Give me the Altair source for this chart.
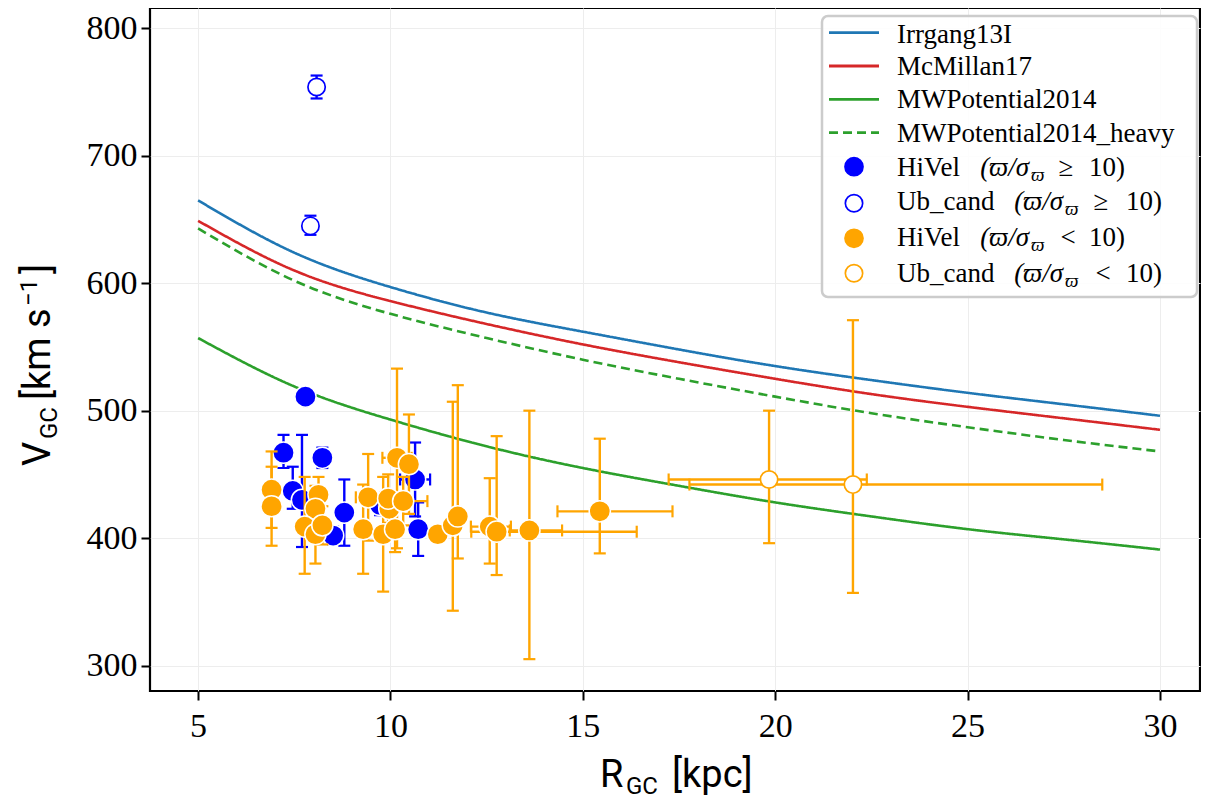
import altair as alt
import pandas as pd

# ---------------- data ----------------
R_MODEL = [5, 7.5, 10, 12.5, 15, 17.5, 20, 22.5, 25, 27.5, 30]
V_IRRGANG = [665, 624, 597, 577, 562, 548, 535, 524, 514, 505, 496]
V_MCMILLAN = [649, 610, 586, 568, 552, 538, 525, 513, 503, 494, 485]
V_MWP = [557, 519, 493, 472, 455, 441, 428, 417, 407, 399, 391]
V_MWP_HEAVY = [643, 602, 576, 557, 540, 525, 511, 498, 487, 477, 468]
MODELS = ["Irrgang13I", "McMillan17", "MWPotential2014", "MWPotential2014_heavy"]
MODEL_COLORS = ["#1f77b4", "#d62728", "#2ca02c", "#2ca02c"]

# HiVel (parallax/err >= 10)
HH_R = [7.79, 7.22, 7.46, 7.70, 8.23, 8.80, 8.51, 10.64, 10.72, 9.73]
HH_V = [511, 467, 437, 430, 463, 420, 402, 446, 407, 426]
HH_VLO = [506, 455, 423, 393, 455, 394, 395, 417, 386, 418]
HH_VHI = [516, 481, 456, 481, 471, 446, 409, 475, 428, 434]
HH_RLO = [7.74, 7.15, 7.38, 7.62, 8.17, 8.72, 8.44, 10.25, 10.55, 9.65]
HH_RHI = [7.84, 7.29, 7.54, 7.78, 8.29, 8.88, 8.58, 11.03, 10.89, 9.81]

# Ub_cand (parallax/err >= 10)
UH_R = [8.08, 7.92]
UH_V = [754, 645]
UH_VLO = [745, 638]
UH_VHI = [763, 653]
UH_RLO = [8.04, 7.88]
UH_RHI = [8.12, 7.96]

# HiVel (parallax/err < 10)
HL_R = [6.91, 6.91, 8.13, 8.05, 7.77, 8.05, 8.23, 9.29, 9.42, 9.97, 9.94, 10.33,
        10.17, 10.48, 9.81, 10.12, 11.23, 11.62, 11.75, 12.58, 12.76, 13.61, 15.44]
HL_V = [438, 425, 434, 423, 409, 403, 410, 407, 432, 423, 431, 429,
        463, 458, 403, 407, 403, 410, 417, 409, 405, 406, 421]
HL_VLO = [408, 394, 420, 405, 372, 380, 395, 372, 398, 410, 412, 410,
          392, 419, 358, 389, 397, 343, 384, 380, 371, 305, 388]
HL_VHI = [468, 456, 448, 441, 448, 426, 425, 442, 466, 436, 450, 448,
          533, 497, 448, 425, 409, 507, 520, 447, 480, 500, 478]
HL_RLO = [6.85, 6.85, 8.07, 7.99, 7.71, 7.99, 8.17, 9.23, 9.10, 9.91, 9.88, 9.70,
          9.79, 10.42, 9.75, 10.06, 11.17, 11.56, 11.69, 12.09, 12.10, 13.10, 14.34]
HL_RHI = [6.97, 6.97, 8.19, 8.11, 7.83, 8.11, 8.29, 9.35, 9.74, 10.03, 10.00, 10.96,
          10.55, 10.54, 9.87, 10.18, 11.29, 11.68, 11.81, 13.13, 16.40, 14.46, 17.33]

# Ub_cand (parallax/err < 10)
UL_R = [19.84, 22.02]
UL_V = [446, 442]
UL_VLO = [396, 357]
UL_VHI = [500, 571]
UL_RLO = [17.23, 17.77]
UL_RHI = [22.38, 28.50]

X_TICKS = [5, 10, 15, 20, 25, 30]
Y_TICKS = [300, 400, 500, 600, 700, 800]

# ---------------- styling ----------------
BLUE = "#0000ff"
ORANGE = "#ffa500"
W, H = 1050, 683
XDOM = [3.75, 31.04]
YDOM = [280, 816]
SERIF = "Liberation Serif"
SANS = "Roboto"
MSIZE = 450
OSIZE = 300

xs = alt.Scale(domain=XDOM, nice=False, zero=False)
ys = alt.Scale(domain=YDOM, nice=False, zero=False)
XAXIS = alt.Axis(values=X_TICKS, title=None, grid=True, gridColor="#ededed", gridWidth=1,
                 domain=False, tickColor="black", tickWidth=2, tickSize=9,
                 labelFont=SERIF, labelFontSize=34, labelColor="black", labelPadding=9,
                 labelFlush=False, labelOverlap=False)
YAXIS = alt.Axis(values=Y_TICKS, title=None, grid=True, gridColor="#ededed", gridWidth=1,
                 domain=False, tickColor="black", tickWidth=2, tickSize=9,
                 labelFont=SERIF, labelFontSize=34, labelColor="black", labelPadding=4,
                 labelFlush=False, labelOverlap=False)


def xq(f):
    return alt.X(f, type="quantitative", scale=xs, axis=XAXIS)


def yq(f):
    return alt.Y(f, type="quantitative", scale=ys, axis=YAXIS)


# ---------------- curves ----------------
rows = []
for name, vals in zip(MODELS, [V_IRRGANG, V_MCMILLAN, V_MWP, V_MWP_HEAVY]):
    for r, v in zip(R_MODEL, vals):
        rows.append({"model": name, "R": r, "V": v})
curves_df = pd.DataFrame(rows)

curves = alt.Chart(curves_df).mark_line(strokeWidth=2.6, interpolate="natural", clip=True).encode(
    x=xq("R"), y=yq("V"),
    color=alt.Color("model:N", scale=alt.Scale(domain=MODELS, range=MODEL_COLORS), legend=None),
    strokeDash=alt.StrokeDash("model:N", scale=alt.Scale(domain=MODELS,
                              range=[[1, 0], [1, 0], [1, 0], [9, 5]]), legend=None),
    detail="model:N",
)


def group(R, V, VLO, VHI, RLO, RHI, color, filled):
    df = pd.DataFrame({"R": R, "V": V, "vlo": VLO, "vhi": VHI, "rlo": RLO, "rhi": RHI})
    base = alt.Chart(df)
    lw = 2.4
    vbar = base.mark_rule(color=color, strokeWidth=lw).encode(x=xq("R"), y=yq("vlo"), y2="vhi")
    hbar = base.mark_rule(color=color, strokeWidth=lw).encode(y=yq("V"), x=xq("rlo"), x2="rhi")
    cap_kw = dict(size=12, thickness=2.2, color=color, opacity=1)
    c1 = base.mark_tick(orient="horizontal", **cap_kw).encode(x=xq("R"), y=yq("vlo"))
    c2 = base.mark_tick(orient="horizontal", **cap_kw).encode(x=xq("R"), y=yq("vhi"))
    c3 = base.mark_tick(orient="vertical", **cap_kw).encode(x=xq("rlo"), y=yq("V"))
    c4 = base.mark_tick(orient="vertical", **cap_kw).encode(x=xq("rhi"), y=yq("V"))
    if filled:
        mk = base.mark_point(shape="circle", filled=True, fill=color, stroke="white",
                             strokeWidth=1.5, size=MSIZE, opacity=1).encode(x=xq("R"), y=yq("V"))
    else:
        mk = base.mark_point(shape="circle", filled=True, fill="white", stroke=color,
                             strokeWidth=1.7, size=OSIZE, opacity=1).encode(x=xq("R"), y=yq("V"))
    return [vbar, hbar, c1, c2, c3, c4, mk]


layers = [curves]
layers += group(HH_R, HH_V, HH_VLO, HH_VHI, HH_RLO, HH_RHI, BLUE, True)
layers += group(UH_R, UH_V, UH_VLO, UH_VHI, UH_RLO, UH_RHI, BLUE, False)
layers += group(HL_R, HL_V, HL_VLO, HL_VHI, HL_RLO, HL_RHI, ORANGE, True)
layers += group(UL_R, UL_V, UL_VLO, UL_VHI, UL_RLO, UL_RHI, ORANGE, False)


def txt(s, x, y, size, font=SERIF, align="left", baseline="alphabetic", angle=0, style="normal"):
    kw = dict(align=align, baseline=baseline, font=font, fontSize=size, color="black",
              fontStyle=style)
    if angle:
        kw["angle"] = angle
    return alt.Chart(pd.DataFrame({"t": [s]})).mark_text(**kw).encode(
        x=alt.value(x), y=alt.value(y), text="t:N")


# ---------------- legend ----------------
LEG_LINE_Y = [24.7, 58, 91.3, 124.7]
LEG_MARK_Y = [158.7, 195.3, 230.3, 265.3]
LEG_TEXT_Y = [34.7, 67, 100.3, 133.7, 167.7, 202, 237.7, 273.7]
LFS = 27
layers.append(alt.Chart(pd.DataFrame({"a": [0]})).mark_rect(
    fill="white", fillOpacity=0.85, stroke="#cccccc", strokeWidth=2.5, cornerRadius=6).encode(
    x=alt.value(672), x2=alt.value(1047), y=alt.value(8), y2=alt.value(289)))
for i, (name, col) in enumerate(zip(MODELS, MODEL_COLORS)):
    kw = dict(color=col, strokeWidth=2.8)
    if i == 3:
        kw["strokeDash"] = [9, 5]
    layers.append(alt.Chart(pd.DataFrame({"a": [0]})).mark_rule(**kw).encode(
        x=alt.value(679), x2=alt.value(729), y=alt.value(LEG_LINE_Y[i])))
    layers.append(txt(name, 747, LEG_TEXT_Y[i], LFS))

mark_specs = [(BLUE, True, "HiVel", "\u2265", 881, 916, 975),
              (BLUE, False, "Ub_cand", "\u2265", 915, 951, 1012),
              (ORANGE, True, "HiVel", "<", 881, 918, 975),
              (ORANGE, False, "Ub_cand", "<", 915, 953, 1012)]
for j, (col, filled, lab, rel, xsub, xrel, xend) in enumerate(mark_specs):
    ym = LEG_MARK_Y[j]
    yt = LEG_TEXT_Y[4 + j]
    if filled:
        mk = alt.Chart(pd.DataFrame({"a": [0]})).mark_point(
            shape="circle", filled=True, fill=col, stroke="white", strokeWidth=1.5, size=MSIZE, opacity=1)
    else:
        mk = alt.Chart(pd.DataFrame({"a": [0]})).mark_point(
            shape="circle", filled=True, fill="white", stroke=col, strokeWidth=1.7, size=OSIZE, opacity=1)
    layers.append(mk.encode(x=alt.value(704), y=alt.value(ym)))
    layers.append(txt(lab, 747, yt, LFS))
    layers.append(txt("(\u03d6/\u03c3", xsub - 2, yt, LFS, align="right", style="italic"))
    layers.append(txt("\u03d6", xsub, yt + 5, 19, style="italic"))
    layers.append(txt(rel, xrel, yt, LFS, align="center"))
    layers.append(txt("10)", xend, yt, LFS, align="right"))

# ---------------- axis titles ----------------
layers.append(txt("R", 450, 779, 38, font=SANS))
layers.append(txt("GC", 476, 786, 24, font=SANS))
layers.append(txt("[kpc]", 522, 779, 38, font=SANS))

layers.append(txt("V", -100, 458, 38, font=SANS, angle=270))
layers.append(txt("GC", -93, 431, 24, font=SANS, angle=270))
layers.append(txt("[km s", -100, 392, 38, font=SANS, angle=270))
layers.append(txt("\u22121", -113, 298, 24, font=SANS, angle=270))
layers.append(txt("]", -100, 266, 38, font=SANS, angle=270))

chart = alt.layer(*layers).properties(
    width=W, height=H,
    autosize=alt.AutoSizeParams(type="none"),
    padding={"left": 142, "top": 0, "right": 1, "bottom": 112},
).configure_view(stroke="black", strokeWidth=2.2)

chart.save("out.html", embed_options={"renderer": "svg", "actions": False})
